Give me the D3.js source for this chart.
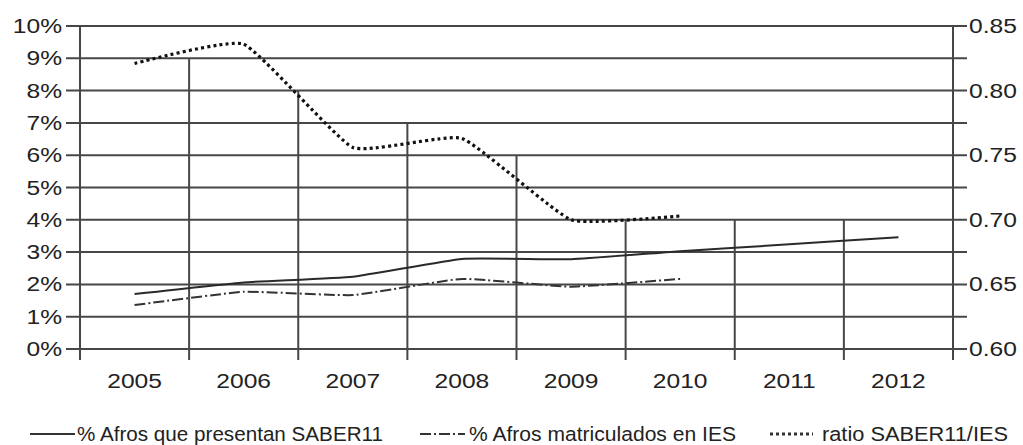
<!DOCTYPE html>
<html><head><meta charset="utf-8">
<script src="https://cdn.jsdelivr.net/npm/d3@7"></script>
<style>
body{margin:0;background:#fff;}
svg{display:block;}
text{font-family:"Liberation Sans",Arial,sans-serif;fill:#222;}
</style></head>
<body><svg id="c" width="1023" height="445"></svg>
<script>
const years = ["2005","2006","2007","2008","2009","2010","2011","2012"];
const saber11 = [1.70, 2.06, 2.24, 2.79, 2.78, 3.03, 3.24, 3.46];
const matriculados = [1.36, 1.77, 1.67, 2.17, 1.93, 2.17, null, null];
const ratio = [0.821, 0.836, 0.756, 0.763, 0.700, 0.703, null, null];
const leftTicks = [0,1,2,3,4,5,6,7,8,9,10];
const rightTicks = [0.60,0.65,0.70,0.75,0.80,0.85];
const dividerTops = [10, 9, 8, 7, 6, 4, 4, 4, 10];
const legendLabels = ["% Afros que presentan SABER11","% Afros matriculados en IES","ratio SABER11/IES"];

const svg = d3.select("#c");
const x = d3.scaleBand().domain(years).range([80, 953]).padding(0);
const yL = d3.scaleLinear().domain([0,10]).range([349, 26]);
const yR = d3.scaleLinear().domain([0.60,0.85]).range([349, 26]);
const gridColor = "#474747";

// horizontal gridlines
svg.append("g").selectAll("line").data(leftTicks).join("line")
  .attr("x1", 66).attr("x2", 967)
  .attr("y1", d => yL(d)).attr("y2", d => yL(d))
  .attr("stroke", gridColor).attr("stroke-width", 2);

// vertical dividers
const bounds = years.map(d => x(d)).concat([x.range()[1]]);
svg.append("g").selectAll("line").data(bounds).join("line")
  .attr("x1", d => d).attr("x2", d => d)
  .attr("y1", (d,i) => yL(dividerTops[i])).attr("y2", yL(0) + 11)
  .attr("stroke", gridColor).attr("stroke-width", 2);

// left axis labels
const leftAxis = d3.axisLeft(yL).tickValues(leftTicks).tickFormat(d => d + "%").tickSize(0).tickPadding(0);
const gl = svg.append("g").attr("transform", "translate(62,0)").call(leftAxis);
gl.select(".domain").remove();
gl.selectAll("text").attr("font-size", 20.5).attr("fill","#222")
  .attr("font-family","Liberation Sans, Arial, sans-serif")
  .attr("x", 0).attr("transform","scale(1.2,1)");

// right axis labels
const rightAxis = d3.axisRight(yR).tickValues(rightTicks).tickFormat(d3.format(".2f")).tickSize(0).tickPadding(0);
const gr = svg.append("g").attr("transform", "translate(969,0)").call(rightAxis);
gr.select(".domain").remove();
gr.selectAll("text").attr("font-size", 20.5).attr("fill","#222")
  .attr("font-family","Liberation Sans, Arial, sans-serif")
  .attr("x", 0).attr("transform","scale(1.2,1)");

// x axis labels
const xAxis = d3.axisBottom(x).tickSize(0).tickPadding(0);
const gx = svg.append("g").attr("transform", "translate(0,372)").call(xAxis);
gx.select(".domain").remove();
gx.selectAll(".tick").each(function(){
  const t = d3.select(this).select("text");
  t.attr("font-size", 20.5).attr("fill","#222")
   .attr("font-family","Liberation Sans, Arial, sans-serif")
   .attr("y", 0).attr("dy","0.8em").attr("transform","scale(1.2,1)");
});

const cx = d => x(d) + x.bandwidth()/2;
const curve = d3.curveCardinal.tension(0.6);

function drawLine(vals, yS, dash, width, color){
  const line = d3.line().defined(d => d.v != null).x(d => cx(d.y)).y(d => yS(d.v)).curve(curve);
  svg.append("path").datum(years.map((y,i)=>({y, v: vals[i]})))
    .attr("d", line).attr("fill","none").attr("stroke", color)
    .attr("stroke-width", width).attr("stroke-dasharray", dash);
}
drawLine(saber11, yL, null, 2, "#2a2a2a");
drawLine(matriculados, yL, "11,3,2,3", 2, "#333");
drawLine(ratio, yR, "3,3.2", 3.2, "#111");

// legend
const legendItems = [
  {x1: 30, x2: 75, tx: 77, w: 306, dash: null, sw: 2},
  {x1: 420, x2: 465, tx: 469, w: 267, dash: "11,3,2,3", sw: 2},
  {x1: 770, x2: 813, tx: 822, w: 186, dash: "3,3", sw: 3}
];
const lg = svg.append("g");
legendItems.forEach((it, i) => {
  lg.append("line").attr("x1", it.x1).attr("x2", it.x2).attr("y1", 434).attr("y2", 434)
    .attr("stroke", "#333").attr("stroke-width", it.sw).attr("stroke-dasharray", it.dash);
  lg.append("text").attr("x", it.tx).attr("y", 441).attr("font-size", 20.5)
    .attr("textLength", it.w).attr("lengthAdjust","spacingAndGlyphs")
    .text(legendLabels[i]);
});
</script></body></html>
